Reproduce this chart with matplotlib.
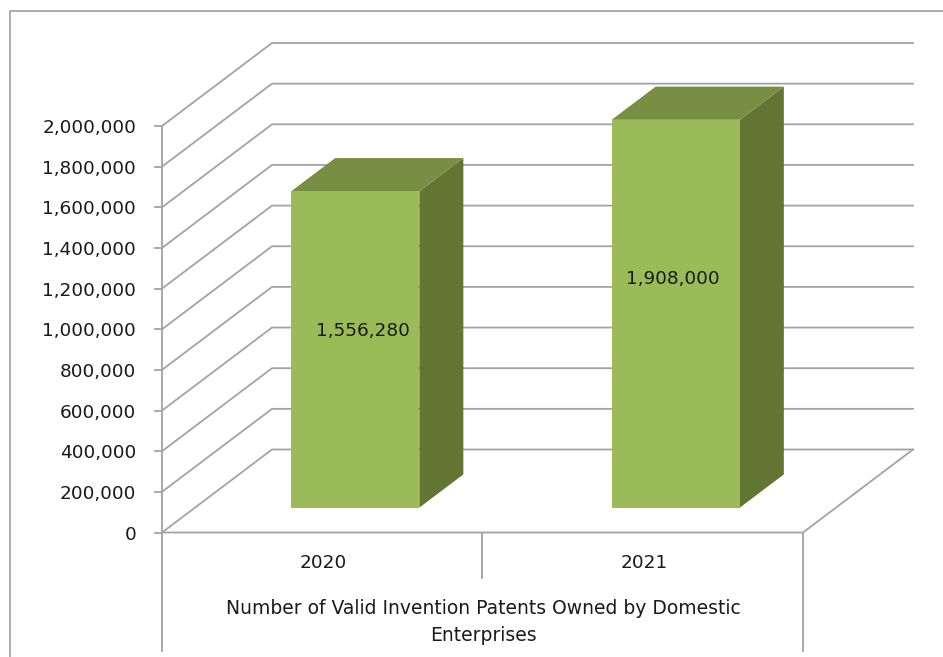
import matplotlib
matplotlib.use("Agg")
import matplotlib.pyplot as plt
from matplotlib.patches import Polygon

# chart values
categories = ["2020", "2021"]
values = [1556280, 1908000]
y_ticks = [0, 200000, 400000, 600000, 800000, 1000000, 1200000, 1400000, 1600000, 1800000, 2000000]
axis_title = "Number of Valid Invention Patents Owned by Domestic\nEnterprises"

# layout of the 3d box, in pixels
left, right = 162, 803
y0, y_top = 532.5, 126
depth_x, depth_y = 110, 83
y_max = 2000000
bar_width = 0.4        # share of a category
bar_depth = (0.3, 0.7) # front and back of the bar, share of the depth
label_shift = [(8, 18), (-3, 35)]

grid_col = "#a3a3a3"
front_col = "#9bbb59"
top_col = "#778f42"
side_col = "#637533"
text_col = "#1a1a1a"

# category position + value + depth to pixels
def proj(c, v, d=0.0):
    x = left + c * (right - left) / len(categories) + d * depth_x
    y = y0 - v / y_max * (y0 - y_top) - d * depth_y
    return x, y

fig = plt.figure(figsize=(9.43, 6.57), dpi=100)
ax = fig.add_axes([0, 0, 1, 1])
ax.set_xlim(0, 943)
ax.set_ylim(657, 0)
ax.axis("off")

# outer frame of the chart area
ax.plot([9.5, 9.5, 943], [657, 11, 11], color="#a6a6a6", lw=1.3, zorder=1)

# gridlines on side wall and back wall
for v in y_ticks:
    pts = [proj(0, v), proj(0, v, 1), proj(len(categories), v, 1)]
    ax.plot([p[0] for p in pts], [p[1] for p in pts], color=grid_col, lw=1.3, zorder=2)
    # tick mark and label
    x, y = proj(0, v)
    ax.plot([x - 7, x], [y, y], color=grid_col, lw=1.3, zorder=2)
    ax.text(136, y + 2, f"{v:,}", ha="right", va="center", fontsize=13.3, color=text_col)

# floor and axis lines
pts = [proj(0, 0), proj(2, 0), proj(2, 0, 1)]
ax.plot([p[0] for p in pts], [p[1] for p in pts], color=grid_col, lw=1.3, zorder=2)
ax.plot([left, left], [y_top, 651], color=grid_col, lw=1.3, zorder=2)
ax.plot([right, right], [y0, 651], color=grid_col, lw=1.3, zorder=2)
mid = proj(1, 0)[0]
ax.plot([mid - 1, mid - 1], [y0, 578], color=grid_col, lw=1.3, zorder=2)

# bars
for i, v in enumerate(values):
    c0 = i + 0.5 - bar_width / 2
    c1 = i + 0.5 + bar_width / 2
    d0, d1 = bar_depth
    front = [proj(c0, 0, d0), proj(c1, 0, d0), proj(c1, v, d0), proj(c0, v, d0)]
    side = [proj(c1, 0, d0), proj(c1, 0, d1), proj(c1, v, d1), proj(c1, v, d0)]
    top = [proj(c0, v, d0), proj(c1, v, d0), proj(c1, v, d1), proj(c0, v, d1)]
    ax.add_patch(Polygon(side, closed=True, facecolor=side_col, edgecolor="none", zorder=3))
    ax.add_patch(Polygon(top, closed=True, facecolor=top_col, edgecolor="none", zorder=3))
    ax.add_patch(Polygon(front, closed=True, facecolor=front_col, edgecolor="none", zorder=4))

    # value label
    cx, cy = proj(i + 0.5, v / 2, d0)
    ax.annotate(f"{v:,}", (cx, cy), xytext=label_shift[i], textcoords="offset pixels",
                ha="center", va="center", fontsize=13.3, color=text_col, zorder=5)

    # category label
    ax.text(proj(i + 0.5, 0)[0] + 1, 563, categories[i], ha="center", va="center",
            fontsize=13.3, color=text_col)

# multi level axis title
ax.text(proj(1, 0)[0] + 0.5, 622, axis_title, ha="center", va="center", fontsize=13.5,
        color=text_col, linespacing=1.55)

fig.savefig("out.png", dpi=100, facecolor="white")
